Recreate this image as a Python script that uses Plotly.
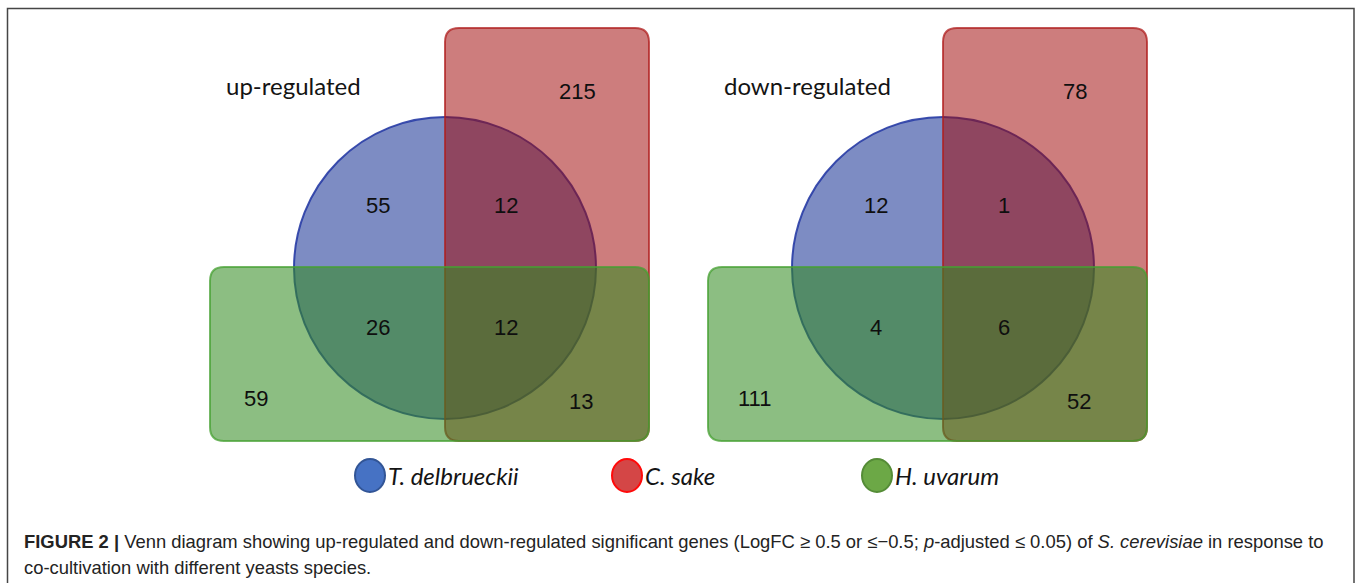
import plotly.graph_objects as go

# ---- data ----
panels = ["up-regulated", "down-regulated"]
cs_only = [215, 78]        # C. sake only
td_only = [55, 12]         # T. delbrueckii only
td_cs = [12, 1]            # T. delbrueckii & C. sake
td_hu = [26, 4]            # T. delbrueckii & H. uvarum
all_three = [12, 6]        # all three
hu_only = [59, 111]        # H. uvarum only
cs_hu = [13, 52]           # C. sake & H. uvarum
species = ["T. delbrueckii", "C. sake", "H. uvarum"]

W, H = 1358, 583
panel_x = [445, 943]

def rrect(x0, y0, x1, y1, r):
    return (f"M{x0+r},{y0} L{x1-r},{y0} Q{x1},{y0} {x1},{y0+r} "
            f"L{x1},{y1-r} Q{x1},{y1} {x1-r},{y1} L{x0+r},{y1} "
            f"Q{x0},{y1} {x0},{y1-r} L{x0},{y0+r} Q{x0},{y0} {x0+r},{y0} Z")

fig = go.Figure()
shapes = []
ann = []

# outer frame
shapes.append(dict(type="rect", x0=7.5, y0=8.5, x1=1354, y1=620,
                   line=dict(color="rgb(70,70,70)", width=1.5), fillcolor="rgba(0,0,0,0)"))

FONT_NUM = "Liberation Sans, Arial, sans-serif"
FONT_LBL = "Lato, Open Sans, sans-serif"

for i, ox in enumerate(panel_x):
    cy = 268
    r = 151
    # blue circle (bottom)
    shapes.append(dict(type="circle", x0=ox - r, x1=ox + r, y0=cy - r, y1=cy + r,
                       fillcolor="rgba(38,63,155,0.6)",
                       line=dict(color="rgba(40,60,165,0.9)", width=2)))
    # red rect
    shapes.append(dict(type="path", path=rrect(ox, 28, ox + 204, 441, 14),
                       fillcolor="rgba(159,5,5,0.52)",
                       line=dict(color="rgba(175,30,30,0.75)", width=2)))
    # green rect (top)
    shapes.append(dict(type="path", path=rrect(ox - 235, 267, ox + 204, 441, 14),
                       fillcolor="rgba(50,139,32,0.56)",
                       line=dict(color="rgba(70,160,50,0.75)", width=2)))

    ann.append(dict(x=ox - 221, y=85, text=panels[i], xanchor="left", yanchor="middle",
                    showarrow=False, font=dict(family=FONT_LBL, size=24, color="rgb(20,20,20)")))
    labels = [
        (ox + 132, 91, cs_only[i]),
        (ox - 67, 205, td_only[i]),
        (ox + 61, 205, td_cs[i]),
        (ox - 67, 327, td_hu[i]),
        (ox + 61, 327, all_three[i]),
        (ox - 189, 398, hu_only[i]),
        (ox + 136, 401, cs_hu[i]),
    ]
    for x, y, v in labels:
        ann.append(dict(x=x, y=y, text=str(v), showarrow=False, xanchor="center", yanchor="middle",
                        font=dict(family=FONT_NUM, size=22, color="rgb(15,15,15)")))

# legend
leg_x = [370, 627, 877]
leg_fill = ["rgb(70,114,196)", "rgb(212,70,70)", "rgb(108,168,70)"]
leg_line = ["rgb(50,85,150)", "rgb(255,10,10)", "rgb(85,140,55)"]
for lx, name, fc, lc in zip(leg_x, species, leg_fill, leg_line):
    shapes.append(dict(type="circle", x0=lx - 15, x1=lx + 15, y0=459, y1=492,
                       fillcolor=fc, line=dict(color=lc, width=2)))
    ann.append(dict(x=lx + 16, y=475, text=f"<i>{name}</i>", xanchor="left", yanchor="middle",
                    showarrow=False, font=dict(family=FONT_LBL, size=24, color="rgb(20,20,20)")))

# caption
cap1 = ("<b>FIGURE 2 |</b> Venn diagram showing up-regulated and down-regulated significant genes "
        "(LogFC ≥ 0.5 or ≤−0.5; <i>p</i>-adjusted ≤ 0.05) of <i>S. cerevisiae</i> in response to")
cap2 = "co-cultivation with different yeasts species."
for y, t in [(541, cap1), (567, cap2)]:
    ann.append(dict(x=22, y=y, text=t, xanchor="left", yanchor="middle", showarrow=False,
                    font=dict(family="Liberation Sans, Arial, sans-serif",
                              size=18.4, color="rgb(35,35,35)")))

fig.update_layout(
    width=W, height=H, margin=dict(l=0, r=0, t=0, b=0),
    paper_bgcolor="white", plot_bgcolor="white",
    xaxis=dict(range=[0, W], visible=False, fixedrange=True),
    yaxis=dict(range=[H, 0], visible=False, fixedrange=True),
    shapes=shapes, annotations=ann, showlegend=False,
)
fig.write_html("out.html", config={"displayModeBar": False},
               post_script="document.body.style.margin='0';document.body.style.overflow='hidden';")
